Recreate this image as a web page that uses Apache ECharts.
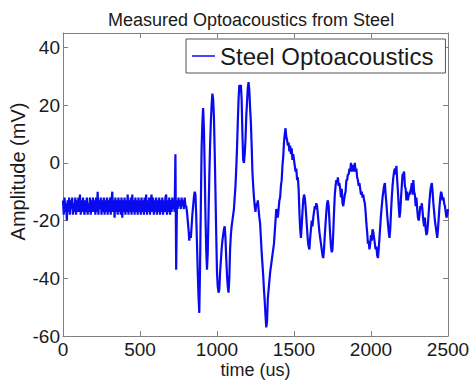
<!DOCTYPE html>
<html>
<head>
<meta charset="utf-8">
<script src="https://cdn.jsdelivr.net/npm/echarts@6/dist/echarts.min.js"></script>
<style>
  html, body { margin: 0; padding: 0; background: #fff; }
  #main { width: 471px; height: 381px; }
</style>
</head>
<body>
<div id="main"></div>
<script>
const titleText = "Measured Optoacoustics from Steel";
const seriesName = "Steel Optoacoustics";
const xTicks = [0, 2500, 500];
const yTicks = [-60, 45, 20];
const sampleStep = 5; // us between samples

// amplitude in mV, one row per 100 us
const amplitude = [
  -13, -18, -12, -17, -14, -20, -13, -17, -12, -18, -13, -16, -12, -18, -14, -17, -12, -18, -13, -17,
  -12, -17, -11, -18, -13, -17, -12, -16, -18, -13, -17, -12, -18, -14, -17, -12, -18, -13, -17, -12,
  -17, -13, -18, -12, -17, -10, -18, -13, -16, -12, -18, -13, -17, -12, -18, -13, -17, -12, -18, -13,
  -17, -12, -18, -13, -10, -17, -13, -19, -12, -17, -13, -18, -12, -17, -13, -18, -12, -19, -13, -17,
  -12, -18, -13, -17, -11, -18, -13, -17, -12, -18, -11, -17, -13, -18, -12, -17, -13, -18, -12, -17,
  -13, -18, -12, -17, -13, -18, -12, -17, -11, -18, -13, -17, -12, -18, -13, -11, -17, -12, -18, -13,
  -17, -12, -18, -13, -17, -12, -18, -13, -17, -12, -18, -13, -17, -12, -11, -18, -13, -17, -12, -18,
  -13, -17, -12, -16, -13, -17, 3, -37, -13, -16, -12, -15, -13, -16, -12, -15, -13, -16, -12, -15,
  -15, -17, -20, -23, -27, -24, -26, -22, -18, -15, -12, -10, -11, -18, -28, -38, -46, -52, -36, -15,
  5, 14, 19, 12, -2, -18, -30, -37, -31, -18, -5, 6, 14, 20, 24, 22, 16, 4, -10, -25,
  -38, -43, -45, -44, -38, -34, -30, -27, -25, -23, -22, -26, -33, -39, -43, -45, -40, -30, -25, -22,
  -20, -18, -16, -12, -8, -2, 5, 14, 22, 27, 25, 27, 22, 10, 1, 0, 3, 8, 16, 21,
  26, 28, 25, 19, 14, 6, -3, -8, -12, -15, -17, -14, -15, -13, -16, -19, -21, -26, -31, -35,
  -39, -44, -48, -53, -57, -55, -47, -44, -41, -38, -36, -34, -32, -30, -28, -24, -20, -16, -17, -19,
  -16, -13, -12, -8, -6, -1, 2, 7, 10, 12, 9, 8, 6, 7, 4, 6, 3, 5, 1, 3,
  1, -1, -3, -2, -6, -5, -9, -17, -23, -26, -22, -17, -13, -11, -12, -15, -19, -23, -27, -29,
  -30, -26, -23, -20, -22, -19, -17, -15, -16, -14, -15, -18, -21, -24, -26, -28, -30, -32, -33, -30,
  -25, -21, -17, -14, -13, -15, -20, -25, -29, -31, -30, -24, -17, -11, -8, -6, -7, -5, -8, -7,
  -9, -12, -9, -14, -15, -13, -11, -10, -6, -6, -4, -4, -2, -3, 0, -3, -1, -1, -3, 0,
  -3, -2, -5, -6, -8, -7, -9, -11, -10, -12, -11, -13, -14, -17, -21, -24, -28, -27, -30, -28,
  -25, -27, -23, -24, -26, -28, -30, -29, -32, -33, -30, -26, -22, -18, -15, -12, -10, -8, -7, -11,
  -14, -18, -21, -24, -26, -23, -17, -12, -8, -5, -3, -2, -4, -1, -6, -10, -15, -19, -17, -12,
  -8, -4, -4, -3, -8, -9, -13, -10, -13, -11, -11, -10, -9, -7, -11, -6, -10, -11, -15, -12,
  -16, -19, -20, -18, -15, -16, -14, -17, -20, -22, -19, -23, -25, -24, -21, -17, -13, -10, -8, -7,
  -10, -14, -17, -20, -22, -24, -26, -23, -19, -15, -12, -10, -11, -13, -12, -14, -15, -17, -19, -18, -16,
];

const chart = echarts.init(document.getElementById("main"), null, { renderer: "svg" });

const font = "Liberation Sans, Arial, sans-serif";
const textColor = "#1a1a1a";
const frameColor = "#808080";

const frameAxis = {
  axisLine: { show: true, onZero: false, lineStyle: { color: frameColor, width: 1 } },
  axisTick: { show: true, inside: true, length: 5, lineStyle: { color: frameColor } },
  splitLine: { show: false },
};

chart.setOption({
  animation: false,
  title: {
    text: titleText,
    left: 108,
    top: 11,
    padding: 0,
    textStyle: { fontFamily: font, fontSize: 18, fontWeight: "normal", color: textColor },
  },
  legend: {
    data: [seriesName],
    left: 186,
    top: 39,
    padding: [5, 12, 5, 6],
    borderColor: "#555",
    borderWidth: 1,
    backgroundColor: "#fff",
    icon: "rect",
    itemWidth: 23,
    itemHeight: 1.5,
    textStyle: { fontFamily: font, fontSize: 24, color: textColor },
  },
  grid: { left: 63, right: 23, top: 33, bottom: 45, outerBoundsMode: "none" },
  xAxis: [
    {
      type: "value",
      min: xTicks[0],
      max: xTicks[1],
      interval: xTicks[2],
      name: "time (us)",
      nameLocation: "middle",
      nameGap: 25,
      nameMoveOverlap: false,
      nameTextStyle: { fontFamily: font, fontSize: 18, lineHeight: 18, color: textColor },
      axisLabel: { margin: 4, fontFamily: font, fontSize: 19, color: textColor, formatter: (v) => String(v) },
      ...frameAxis,
    },
    {
      type: "value",
      position: "top",
      min: xTicks[0],
      max: xTicks[1],
      interval: xTicks[2],
      axisLabel: { show: false },
      ...frameAxis,
    },
  ],
  yAxis: [
    {
      type: "value",
      min: yTicks[0],
      max: yTicks[1],
      interval: yTicks[2],
      name: "Amplitude (mV)",
      nameLocation: "middle",
      nameGap: 35,
      nameMoveOverlap: false,
      nameTextStyle: { fontFamily: font, fontSize: 20, color: textColor, padding: [0, 0, 0, 26] },
      axisLabel: { margin: 3, fontFamily: font, fontSize: 19, color: textColor, showMaxLabel: false },
      ...frameAxis,
    },
    {
      type: "value",
      position: "right",
      min: yTicks[0],
      max: yTicks[1],
      interval: yTicks[2],
      axisLabel: { show: false },
      ...frameAxis,
    },
  ],
  series: [
    {
      name: seriesName,
      type: "line",
      data: amplitude.map((v, i) => [i * sampleStep, v]),
      showSymbol: false,
      symbol: "none",
      sampling: "none",
      color: "#0a0af0",
      lineStyle: { width: 2.2, color: "#0a0af0" },
    },
  ],
});
</script>
</body>
</html>
